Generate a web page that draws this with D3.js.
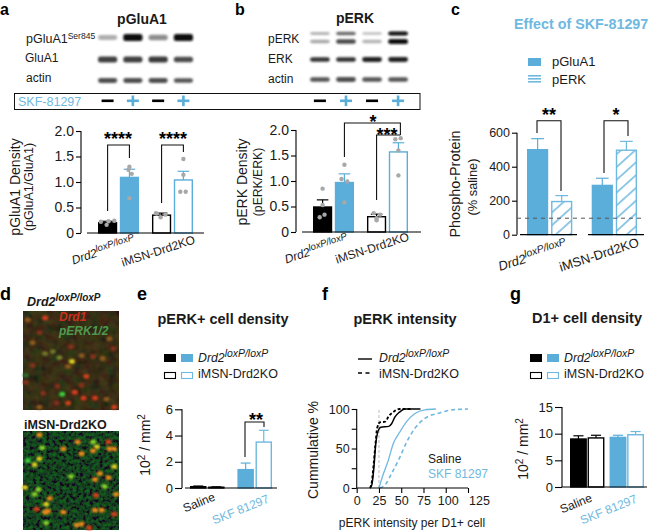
<!DOCTYPE html>
<html><head><meta charset="utf-8">
<script src="https://cdn.jsdelivr.net/npm/d3@7/dist/d3.min.js"></script>
<style>html,body{margin:0;padding:0;background:#fff}svg{display:block}text{font-family:"Liberation Sans",Arial,sans-serif;fill:#1a1a1a}</style>
</head><body><svg id="c" width="651" height="531"></svg>
<script>
// ---------- data ----------
const pGluMeans=[0.2,1.09,0.35,1.04], pGluSem=[0.03,0.16,0.04,0.17];
const pGluDots=[[0.22,0.24,0.16,0.23],[1.30,1.16,1.24,0.68],[0.39,0.36,0.31,0.38],[1.45,1.14,0.81,0.81]];
const pGluOffs=[[-0.35,0.35,-0.05,0.05],[0,0.12,-0.05,0],[-0.3,0.2,-0.05,-0.25],[0,0,-0.16,0.12]];
const pErkMeans=[0.49,0.97,0.3,1.57], pErkSem=[0.14,0.17,0.05,0.18];
const pErkDots=[[0.85,0.53,0.34,0.29],[1.32,1.04,0.99,0.58],[0.37,0.34,0.23,0.27],[1.82,1.84,1.6,1.11]];
const pErkOffs=[[0,0,0.1,-0.15],[0,-0.15,0.15,0],[-0.15,0.18,0,0],[-0.16,0.12,0,0]];
const effectMeans=[500,195,290,497], effectSem=[65,35,42,52];
const cellMeans=[0.1,0.06,1.4,3.5], cellSem=[0.05,0.03,0.5,0.9];
const d1Means=[9,9.2,9.3,9.8], d1Sem=[0.6,0.5,0.4,0.6];
const curveCtlSaline=[[15,0],[17,4],[19,22],[21.6,58],[24,72],[27,77],[36,78],[39,81],[43,90],[48,96],[54,100],[71.6,100]];
const curveKoSaline=[[15,0],[17,8],[19,30],[21,55],[23,76],[26,83],[32,84],[36,91],[41,96],[48,100],[62,100]];
const curveCtlSkf=[[25,0],[30,18],[35.5,35],[41,56],[48.5,71],[56,84],[65,94],[76.5,99],[89,100]];
const curveKoSkf=[[26,0],[32,4],[39,18],[48.5,39],[56,58],[65,75],[76.5,88],[93,95],[108,99],[125,100]];
const blotA=[[0.25,1,0.4,1],[0.75,0.75,0.78,0.7],[0.68,0.68,0.68,0.65]];
const blotB=[[0.22,0.55,0.18,1],[0.28,0.7,0.22,1],[0.8,0.82,0.88,0.88],[0.65,0.68,0.65,0.65]];
const signs=["−","+","−","+"];
const cellsTop=[[5,9,"o2"],[23,7,"r"],[17,22,"r2"],[10,32,"o2"],[31,41,"v"],[23,43,"v"],[38,47,"l2"],[51,51,"y"],[47,56,"o2"],[66,66,"r"],[54,82,"r"],[47,93,"r"],[63,88,"r"],[75,88,"r"],[87,89,"o2"],[21,83,"r2"],[3,72,"r2"],[41,84,"g"],[3,65,"g2"],[83,48,"o2"],[94,38,"r2"],[90,28,"o2"],[61,45,"o2"],[73,46,"r2"],[50,36,"r2"],[10,55,"r2"],[36,76,"r2"],[95,97,"r"],[17,97,"o2"],[35,93,"r2"],[61,75,"r2"]];
const cellsBottom=[[17,4,"o"],[20,17,"l"],[17,28,"y"],[12,34,"y"],[57,11,"o"],[73,11,"l"],[77,16,"y"],[73,20,"o"],[61,23,"o"],[89,11,"r"],[90,18,"o"],[95,18,"o"],[42,18,"o"],[95,36,"y"],[2,57,"y"],[16,59,"l"],[12,64,"l"],[28,68,"o"],[24,74,"y"],[14,79,"r"],[26,81,"o"],[23,82,"o"],[42,82,"o"],[24,93,"l"],[50,46,"l"],[75,49,"o"],[89,47,"o"],[80,43,"o"],[85,56,"l"],[76,65,"r"],[97,64,"o"],[75,80,"o"],[82,80,"o"],[95,84,"r"],[56,95,"o"],[61,94,"o"],[69,98,"r"],[5,30,"g"]];
const groupNames=["Drd2","iMSN-Drd2KO"], treatNames=["Saline","SKF 81297"];

// ---------- style ----------
const BLUE="#5aaed9", LIGHT="#6fb8e0", BLACK="#000";
const cellColour={r:"#d83c1c",r2:"#84321a",o:"#ee8a1a",o2:"#8f5a1e",y:"#dcd020",l:"#8ad22a",l2:"#6f8a2c",g:"#3ed03a",g2:"#2a6a2c",v:"#75752a"};
const blotGrey=d3.interpolateRgb("#e4e4e4","#0a0a0a");
const svg=d3.select("#c");
const defs=svg.append("defs");
const blur=(id,s)=>defs.append("filter").attr("id",id).attr("x","-30%").attr("y","-80%").attr("width","160%").attr("height","260%").append("feGaussianBlur").attr("stdDeviation",s);
blur("b1",1.1); blur("b2",0.8);
const hatch=defs.append("pattern").attr("id","hatch").attr("patternUnits","userSpaceOnUse").attr("width",9.5).attr("height",9.5).attr("patternTransform","rotate(-42)");
hatch.append("rect").attr("width",9.5).attr("height",9.5).attr("fill","#fff");
hatch.append("line").attr("x1",0).attr("x2",9.5).attr("y1",4.7).attr("y2",4.7).attr("stroke",LIGHT).attr("stroke-width",1.5);
const hatch2=defs.append("pattern").attr("id","hatch2").attr("patternUnits","userSpaceOnUse").attr("width",3).attr("height",3);
hatch2.append("rect").attr("width",3).attr("height",3).attr("fill","#fff");
hatch2.append("rect").attr("width",3).attr("height",1.6).attr("fill",LIGHT);
function noise(id,freq,matrix){const f=defs.append("filter").attr("id",id).attr("x",0).attr("y",0).attr("width","100%").attr("height","100%");
 f.append("feTurbulence").attr("type","fractalNoise").attr("baseFrequency",freq).attr("numOctaves",2).attr("seed",4);
 f.append("feColorMatrix").attr("values",matrix);}
noise("nTop",0.12,"0.5 0 0 0 -0.08  0 0.35 0 0 -0.05  0 0 0.05 0 0  0 0 0 0 1");
noise("nBot",0.3,"0 0 0 0 0.02  0 1.3 0 0 -0.42  0 0 0.1 0 0  0 0 0 0 1");

function txt(g,x,y,s,o={}){const t=g.append("text").attr("x",x).attr("y",y).text(s).attr("font-size",o.size||12);
 if(o.bold)t.attr("font-weight","bold"); if(o.anchor)t.attr("text-anchor",o.anchor); if(o.fill)t.style("fill",o.fill); if(o.italic)t.attr("font-style","italic");
 if(o.rot!==undefined)t.attr("x",0).attr("y",0).attr("transform",`translate(${x},${y}) rotate(${o.rot})`); return t;}
function drd2(g,x,y,o={}){const t=g.append("text").attr("font-size",o.size||12).attr("font-style","italic");
 if(o.bold)t.attr("font-weight","bold"); if(o.anchor)t.attr("text-anchor",o.anchor);
 if(o.rot!==undefined)t.attr("transform",`translate(${x},${y}) rotate(${o.rot})`); else t.attr("x",x).attr("y",y);
 t.append("tspan").text(groupNames[0]);
 t.append("tspan").text("loxP/loxP").attr("font-size",(o.size||12)*(o.supScale||0.8)).attr("dy",-(o.size||12)*0.38);
 return t;}

// ---------- blots ----------
function blot(lanes,rows,vals,hs){const x=d3.scaleBand().domain(d3.range(4)).range(lanes).paddingInner(0.24);
 const g=svg.append("g");
 vals.forEach((r,i)=>g.append("g").selectAll("rect").data(r).join("rect")
  .attr("x",(d,j)=>x(j)).attr("width",x.bandwidth()).attr("y",d=>rows[i]-hs[i]*(0.6+0.4*d)/2).attr("height",d=>hs[i]*(0.6+0.4*d))
  .attr("rx",2.5).attr("fill",d=>blotGrey(d)).attr("filter","url(#b1)"));
 return x;}
const laneA=blot([98,193],[37.5,59.5,80.5],blotA,[7,6.5,5.5]);
const laneB=blot([310,408],[33.5,41.5,59.5,79.5],blotB,[4,5,5,5.5]);
function signRow(x){const g=svg.append("g");
 g.selectAll("rect").data(signs).join("rect").attr("x",(d,i)=>x(i)+x.bandwidth()/2-6).attr("width",12).attr("y",99.5).attr("height",2.6).attr("fill",d=>d==="+"?BLUE:BLACK);
 g.selectAll("rect.v").data(signs.filter(d=>d==="+")).join("rect").attr("class","v").attr("x",(d,i)=>x(i*2+1)+x.bandwidth()/2-1.3).attr("width",2.6).attr("y",95.5).attr("height",10.6).attr("fill",BLUE);}
signRow(laneA); signRow(laneB);
svg.append("rect").attr("x",14.5).attr("y",93.5).attr("width",405.5).attr("height",16).attr("fill","none").attr("stroke","#111").attr("stroke-width",1);
txt(svg,18,106,"SKF-81297",{size:12.5,fill:LIGHT});
const t1=txt(svg,26,43,"pGluA1",{size:12.5}); t1.append("tspan").text("Ser845").attr("font-size",8.5).attr("dy",-4);
txt(svg,25,62,"GluA1",{size:12}); txt(svg,26,82,"actin",{size:12});
txt(svg,268,43,"pERK",{size:12}); txt(svg,268,63,"ERK",{size:12}); txt(svg,268,83,"actin",{size:12});

// ---------- bar panels ----------
function barPanel(o){
 const g=svg.append("g");
 const y=d3.scaleLinear().domain(o.domain).range([o.y0,o.y1]);
 const outer=d3.scaleBand().domain([0,1]).range(o.xr).paddingInner(o.pad);
 const inner=d3.scaleBand().domain([0,1]).range([0,outer.bandwidth()]).paddingInner(o.ipad||0.1);
 const bx=i=>outer(i>>1)+inner(i%2), bw=inner.bandwidth();
 const st=o.styles;
 g.append("g").selectAll("line").data(o.means).join("line")
  .attr("x1",(d,i)=>bx(i)+bw/2).attr("x2",(d,i)=>bx(i)+bw/2).attr("y1",d=>y(d)).attr("y2",(d,i)=>y(d+o.sem[i])).attr("stroke",(d,i)=>st[i].s).attr("stroke-width",1.2);
 g.append("g").selectAll("line").data(o.means).join("line")
  .attr("x1",(d,i)=>bx(i)+bw/2-bw*0.3).attr("x2",(d,i)=>bx(i)+bw/2+bw*0.3).attr("y1",(d,i)=>y(d+o.sem[i])).attr("y2",(d,i)=>y(d+o.sem[i])).attr("stroke",(d,i)=>st[i].s).attr("stroke-width",1.2);
 g.append("g").selectAll("rect").data(o.means).join("rect")
  .attr("x",(d,i)=>bx(i)+0.7).attr("width",bw-1.4).attr("y",d=>y(d)).attr("height",d=>y(0)-y(d)).attr("fill",(d,i)=>st[i].f).attr("stroke",(d,i)=>st[i].s).attr("stroke-width",1.4);
 if(o.dots) o.dots.forEach((vals,i)=>g.append("g").selectAll("circle").data(vals).join("circle")
  .attr("cx",(d,j)=>bx(i)+bw/2+o.offs[i][j]*bw).attr("cy",d=>y(d)).attr("r",2.2).attr("fill","#a8a8a8"));
 const ax=g.append("g").attr("transform",`translate(${o.ax},0)`).call(d3.axisLeft(y).tickValues(o.ticks).tickFormat(o.fmt).tickSize(o.ts||5).tickPadding(2));
 ax.selectAll("path,line").attr("stroke","#000").attr("stroke-width",1.1);
 ax.select(".domain").attr("d",`M0,${y.range()[1]}V${y.range()[0]}`);
 ax.selectAll("text").attr("font-size",o.tf||13).attr("font-family",null);
 (o.base||[[o.ax,o.xEnd]]).forEach(b=>g.append("line").attr("x1",b[0]).attr("x2",b[1]).attr("y1",y(0)).attr("y2",y(0)).attr("stroke","#000").attr("stroke-width",1.2));
 return {g,y,bx:i=>bx(i)+bw/2};
}
const fB=[{f:BLACK,s:BLACK},{f:BLUE,s:BLUE},{f:"#fff",s:BLACK},{f:"#fff",s:BLUE}];
const fC=[{f:BLUE,s:BLUE},{f:"url(#hatch)",s:LIGHT},{f:BLUE,s:BLUE},{f:"url(#hatch)",s:LIGHT}];
const fE=[{f:BLACK,s:BLACK},{f:"#fff",s:BLACK},{f:BLUE,s:BLUE},{f:"#fff",s:LIGHT}];
function bracket(g,x1,x2,yL,yT,yR){g.append("path").attr("d",`M${x1},${yL}V${yT}H${x2}V${yR}`).attr("fill","none").attr("stroke","#111").attr("stroke-width",1.1);}
function stars(g,x,y,s,sz){txt(g,x,y,s,{size:sz||18,bold:true,anchor:"middle"}).style("fill","#000");}
function yLabel(x,y,s,size){return txt(svg,x,y,s,{size,rot:-90,anchor:"middle"});}

// a
const A=barPanel({domain:[0,2],y0:233,y1:131,xr:[98,193],pad:0.24,ipad:0.12,means:pGluMeans,sem:pGluSem,dots:pGluDots,offs:pGluOffs,styles:fB,ax:81,xEnd:204,tf:14,ticks:[0,0.5,1,1.5,2],fmt:d=>d?d3.format(".1f")(d):"0",base:[[87,204]]});
bracket(A.g,A.bx(0),A.bx(1),211,145,158); bracket(A.g,A.bx(2),A.bx(3),203,145,152);
stars(A.g,118,145,"****"); stars(A.g,173,145,"****");
yLabel(20,187,"pGluA1 Density",14); yLabel(33,187,"(pGluA1/GluA1)",12.5);
drd2(svg,136,244,{anchor:"end",rot:-18,size:12}); txt(svg,196,243,groupNames[1],{anchor:"end",rot:-18,size:12});
// b
const B=barPanel({domain:[0,2],y0:232,y1:130,xr:[313,408],pad:0.24,ipad:0.12,means:pErkMeans,sem:pErkSem,dots:pErkDots,offs:pErkOffs,styles:fB,ax:296,tf:14,ticks:[0,0.5,1,1.5,2],fmt:d=>d?d3.format(".1f")(d):"0",base:[[302,421]]});
bracket(B.g,B.bx(1),B.bx(3)+2,157,123,135); bracket(B.g,B.bx(2),B.bx(3)+2,200,135,135);
stars(B.g,373,128,"*"); stars(B.g,387,140.5,"***");
yLabel(247,182,"pERK Density",14); yLabel(262,182,"(pERK/ERK)",12.2);
drd2(svg,349,243,{anchor:"end",rot:-18,size:12}); txt(svg,410,240,groupNames[1],{anchor:"end",rot:-18,size:12});
// c
const C=barPanel({domain:[0,600],y0:234.7,y1:132.7,xr:[527,637],pad:0.3,ipad:0.12,means:effectMeans,sem:effectSem,styles:fC,ax:517,tf:12.5,ticks:[0,200,400,600],fmt:d3.format("d"),base:[[520,577],[588,644]]});
C.g.append("line").attr("x1",517).attr("x2",645).attr("y1",C.y(97)).attr("y2",C.y(97)).attr("stroke","#555").attr("stroke-width",1).attr("stroke-dasharray","4,4");
bracket(C.g,537,561,133,120.7,191); bracket(C.g,604,628,173,120.7,136);
stars(C.g,549,121,"**"); stars(C.g,616,121,"*");
yLabel(460,184,"Phospho-Protein",14.4); yLabel(477,187,"(% saline)",12.8);
drd2(svg,568,249,{anchor:"end",rot:-18,size:13}); txt(svg,640,246,groupNames[1],{anchor:"end",rot:-18,size:13});
txt(svg,514,29,"Effect of SKF-81297",{size:14.3,bold:true,fill:LIGHT});
svg.append("rect").attr("x",528).attr("y",58).attr("width",13).attr("height",8).attr("fill",BLUE);
svg.append("rect").attr("x",528).attr("y",75).attr("width",13).attr("height",8).attr("fill","url(#hatch2)");
txt(svg,552,66,"pGluA1",{size:13}); txt(svg,552,84,"pERK",{size:13});
// e
const E=barPanel({domain:[0,6],y0:488,y1:409.3,xr:[190,272],pad:0.27,ipad:0.09,means:cellMeans,sem:cellSem,styles:fE,ax:182,ticks:[0,2,4,6],fmt:d3.format("d"),ts:7,base:[[185,277]]});
bracket(E.g,245,264,457,422,427); stars(E.g,256,426,"**");
function tenSq(x,y){const t=svg.append("text").attr("font-size",14).attr("text-anchor","middle").attr("transform",`translate(${x},${y}) rotate(-90)`);
 t.append("tspan").text("10"); t.append("tspan").text("2").attr("font-size",10).attr("dy",-5); t.append("tspan").text(" / mm").attr("font-size",14).attr("dy",5); t.append("tspan").text("2").attr("font-size",10).attr("dy",-5);}
tenSq(150,445);
txt(svg,216,500,treatNames[0],{anchor:"end",rot:-22,size:12}); txt(svg,270,502,treatNames[1],{anchor:"end",rot:-22,size:12,fill:LIGHT});
function legend(x0,x1,tx){
 [[x0,BLACK],[x1,BLUE]].forEach(r=>svg.append("rect").attr("x",r[0]).attr("y",354).attr("width",12).attr("height",8).attr("fill",r[1]));
 [[x0,BLACK],[x1,LIGHT]].forEach(r=>svg.append("rect").attr("x",r[0]+.5).attr("y",372.5).attr("width",11).attr("height",6).attr("fill","#fff").attr("stroke",r[1]).attr("stroke-width",1.1));
 drd2(svg,tx,362,{size:12.3,supScale:0.85}); txt(svg,tx,378,groupNames[1],{size:12.5});}
legend(164,181,198);
txt(svg,223,324,"pERK+ cell density",{size:14.5,bold:true,anchor:"middle"});
// g
const G=barPanel({domain:[0,15],y0:487,y1:407,xr:[570,644],pad:0.13,ipad:0.04,means:d1Means,sem:d1Sem,styles:fE,ax:562,ticks:[0,5,10,15],fmt:d3.format("d"),ts:7,base:[[562,647]]});
tenSq(528,449);
txt(svg,593,501,treatNames[0],{anchor:"end",rot:-22,size:12}); txt(svg,638,502,treatNames[1],{anchor:"end",rot:-22,size:12,fill:LIGHT});
legend(530,547,564);
txt(svg,587,323,"D1+ cell density",{size:14.5,bold:true,anchor:"middle"});
// f
const fg=svg.append("g");
const fx=d3.scaleLinear().domain([0,125]).range([356.7,468]);
const fy=d3.scaleLinear().domain([0,100]).range([488,409]);
fg.append("line").attr("x1",fx(25)).attr("x2",fx(25)).attr("y1",fy(0)).attr("y2",fy(100)).attr("stroke","#c8c8c8").attr("stroke-width",1.2).attr("stroke-dasharray","3,2");
const line=d3.line().x(d=>fx(d[0])).y(d=>fy(d[1])).curve(d3.curveMonotoneX);
[[curveCtlSkf,LIGHT,null,1.3],[curveKoSkf,LIGHT,"4,3",1.6],[curveCtlSaline,BLACK,null,1.5],[curveKoSaline,BLACK,"3,2",1.8]].forEach(c=>
 fg.append("path").attr("d",line(c[0])).attr("fill","none").attr("stroke",c[1]).attr("stroke-width",c[3]).attr("stroke-dasharray",c[2]));
const fxa=fg.append("g").attr("transform","translate(0,488)").call(d3.axisBottom(fx).tickValues([0,25,50,75,100,125]).tickSize(5).tickPadding(3));
const fya=fg.append("g").attr("transform","translate(356.7,0)").call(d3.axisLeft(fy).tickValues([0,25,50,75,100]).tickFormat(d=>d%50===0?d:"").tickSize(5).tickPadding(2));
[fxa,fya].forEach(a=>{a.selectAll("path,line").attr("stroke","#000").attr("stroke-width",1.1);a.selectAll("text").attr("font-size",12.5).attr("font-family",null);a.select(".domain").attr("d",a===fxa?`M${fx(0)},0H${fx(125)}`:`M0,${fy(0)}V${fy(100)}`);});
fxa.selectAll("text").attr("dx",d=>d===125?11:d===100?2:0);
yLabel(318,450,"Cummulative %",14);
txt(svg,412,527,"pERK intensity per D1+ cell",{size:12,anchor:"middle"});
txt(svg,428,463,treatNames[0],{size:12}); txt(svg,428,478,treatNames[1],{size:12,fill:LIGHT});
svg.append("line").attr("x1",358).attr("x2",372).attr("y1",359).attr("y2",359).attr("stroke","#000").attr("stroke-width",1.4);
svg.append("line").attr("x1",358).attr("x2",372).attr("y1",373).attr("y2",373).attr("stroke","#000").attr("stroke-width",1.4).attr("stroke-dasharray","4,3.5");
drd2(svg,379,362,{size:12.3,supScale:0.85}); txt(svg,379,378,groupNames[1],{size:12.5});
txt(svg,405,324,"pERK intensity",{size:14.5,bold:true,anchor:"middle"});

// ---------- micrographs (panel d) ----------
function micro(y0,y1,cells,nf,base,op){
 const mx=d3.scaleLinear().domain([0,100]).range([23,119]), my=d3.scaleLinear().domain([0,100]).range([y0,y1]);
 const g=svg.append("g");
 g.append("rect").attr("x",23).attr("y",y0).attr("width",96).attr("height",y1-y0).attr("fill",base);
 g.append("rect").attr("x",23).attr("y",y0).attr("width",96).attr("height",y1-y0).attr("filter",`url(#${nf})`).attr("opacity",op);
 g.append("g").selectAll("ellipse").data(cells).join("ellipse").attr("cx",d=>mx(d[0])).attr("cy",d=>my(d[1])).attr("rx",3).attr("ry",2.4).attr("fill",d=>cellColour[d[2]]).attr("filter","url(#b2)");
}
micro(311,410,cellsTop,"nTop","#17120a",0.35);
micro(431,530,cellsBottom,"nBot","#060c04",0.45);
drd2(svg,27,306,{size:12.5,bold:true,supScale:0.8});
txt(svg,24,429,groupNames[1],{size:12.5,bold:true});
txt(svg,59,321,"Drd1",{size:12,bold:true,italic:true,fill:"#c9301c"});
txt(svg,59,335,"pERK1/2",{size:12,bold:true,italic:true,fill:"#4f9a4f"});

// ---------- headings ----------
txt(svg,142,24,"pGluA1",{size:14,bold:true,anchor:"middle"});
txt(svg,355,23,"pERK",{size:14,bold:true,anchor:"middle"});
[["a",0,15,16],["b",235,15,16],["c",451,15,16],["d",0,300,18],["e",137,300,18],["f",322,300,18],["g",510,300,18]].forEach(l=>txt(svg,l[1],l[2],l[0],{size:l[3],bold:true}).style("fill","#000"));
</script></body></html>
